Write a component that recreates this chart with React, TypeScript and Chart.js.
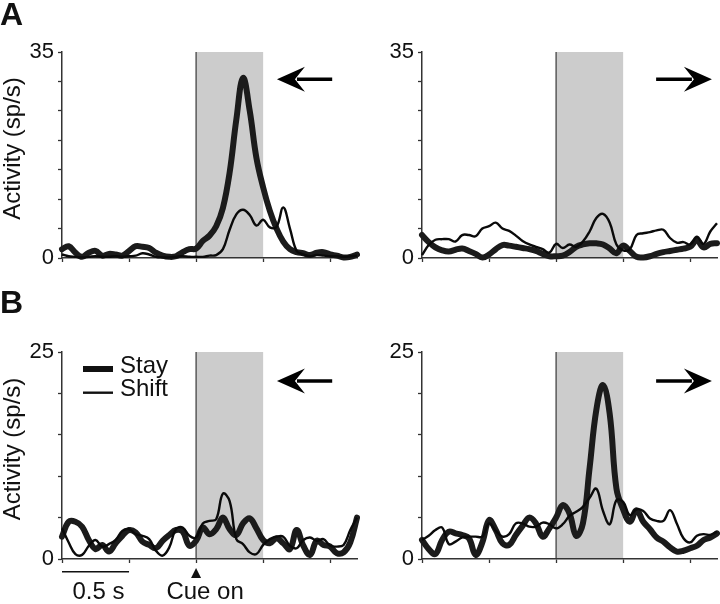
import React, { useEffect, useRef } from 'react';
import { Chart, registerables } from 'chart.js';

Chart.register(...registerables);

const FONT = '"Liberation Sans", Arial, Helvetica, sans-serif';

// time relative to cue onset (s)
const TIME_S = [
  -1.0, -0.95, -0.9, -0.85, -0.8, -0.75, -0.7, -0.65, -0.6, -0.55,
  -0.5, -0.45, -0.4, -0.35, -0.3, -0.25, -0.2, -0.15, -0.1, -0.05,
  0.0,
  0.05, 0.1, 0.15, 0.2, 0.25, 0.3, 0.35, 0.4, 0.45, 0.5,
  0.55, 0.6, 0.65, 0.7, 0.75, 0.8, 0.85, 0.9, 0.95, 1.0,
  1.05, 1.1, 1.15, 1.2,
];

const X_MIN = -1.0;
const X_MAX = 1.2;
const X_STEP = 0.5;
const CUE_WINDOW = [0, 0.5];
const SERIES_NAMES = ['Stay', 'Shift'];

const A_Y_MAX = 35;
const B_Y_MAX = 25;
const Y_STEP = 5;

const A_LEFT_STAY = [
  1.5, 2.0, 0.9, 0.2, 0.9, 1.2, 0.4, 0.7, 0.6, 0.4,
  1.2, 2.0, 1.9, 1.7, 0.9, 0.4, 0.2, 0.3, 1.0, 1.5,
  1.6,
  2.9, 3.8, 5.4, 8.5, 14.5, 23.5, 30.6, 25.0, 17.0, 12.0,
  8.0, 5.0, 2.8, 1.5, 1.0, 0.8, 0.5, 0.9, 1.0, 0.6,
  0.4, 0.1, 0.2, 0.6,
];
const A_LEFT_SHIFT = [
  0.6, 0.3, 0.2, 0.1, 0.2, 0.3, 0.2, 0.2, 0.3, 0.2,
  0.3, 0.4, 0.8, 0.6, 0.2, 0.1, 0.1, 0.2, 0.3, 0.2,
  0.2,
  0.2, 0.4, 0.5, 1.5, 4.8, 7.4, 8.2, 7.3, 5.5, 6.5,
  5.2, 5.3, 8.6, 5.0, 1.2, 0.6, 0.3, 0.5, 0.4, 0.3,
  0.3, 0.2, 0.3, 0.4,
];
const A_RIGHT_STAY = [
  3.9, 2.7, 1.8, 1.3, 1.1, 1.4, 1.6, 1.2, 0.7, 0.1,
  0.6, 1.5, 2.2, 2.1, 1.9, 1.7, 1.5, 1.2, 0.7, 0.3,
  0.3,
  0.4, 1.0, 1.9, 2.3, 2.5, 2.5, 2.3, 1.6, 0.8, 2.1,
  1.2, 0.2, 0.1, 0.3, 0.7, 1.0, 1.2, 1.4, 1.6, 1.9,
  3.0, 1.8, 2.4, 2.5,
];
const A_RIGHT_SHIFT = [
  0.5, 2.2, 3.1, 3.2, 3.2, 2.8, 3.9, 3.9, 3.7, 5.0,
  5.4, 6.0, 5.0, 4.6, 3.8, 2.9, 2.3, 1.9, 1.5, 0.9,
  2.4,
  1.7, 2.3, 1.9, 2.8, 4.5, 6.8, 7.5, 6.0, 2.3, 1.3,
  1.5, 3.9, 4.2, 4.4, 4.7, 4.8, 3.4, 2.6, 2.7, 2.3,
  3.6, 2.4, 4.5, 5.9,
];
const B_LEFT_STAY = [
  2.7, 4.5, 4.5, 3.9, 2.3, 1.2, 1.7, 0.9, 1.9, 2.8,
  3.5, 3.2, 2.1, 1.7, 1.3, 2.2, 2.9, 3.5, 3.3, 1.6,
  2.2,
  3.8, 3.0, 3.6, 5.0, 3.6, 2.9, 4.3, 4.9, 3.7, 2.3,
  1.9, 2.5, 1.9, 1.2, 3.5, 1.6, 0.5, 2.2, 1.7, 1.5,
  0.7, 0.8, 2.0, 5.0,
];
const B_LEFT_SHIFT = [
  3.7, 2.0, 0.6, 0.5, 1.6, 2.3, 1.5, 1.8, 2.3, 3.4,
  3.6, 3.0, 2.8, 2.4, 1.0, 0.4, 1.4, 3.6, 3.8, 2.8,
  2.6,
  4.3, 4.6, 4.8, 7.9, 7.0, 2.4, 1.8, 0.8, 0.6, 1.7,
  2.4, 2.7, 2.7, 1.6, 1.3, 2.3, 2.6, 2.2, 2.4, 1.6,
  1.5, 1.7, 3.5, 5.0,
];
const B_RIGHT_STAY = [
  2.3, 1.2, 0.6, 2.3, 3.3, 3.1, 2.9, 2.5, 0.5, 2.0,
  4.7, 3.5, 1.9, 1.7, 2.9, 4.0, 5.0, 4.3, 2.7, 3.7,
  5.0,
  6.5, 5.5, 2.8, 4.3, 11.0, 18.0, 21.0, 17.5, 8.5, 6.0,
  4.5, 5.9, 4.5, 3.6, 2.6, 2.1, 1.4, 0.9, 1.0, 1.3,
  1.6, 2.3, 2.6, 3.1,
];
const B_RIGHT_SHIFT = [
  2.3, 2.8, 3.5, 3.8, 1.8, 2.1, 2.6, 2.7, 2.7, 2.7,
  4.3, 3.4, 2.7, 3.0, 4.3, 4.3, 3.9, 3.9, 4.4, 4.2,
  3.7,
  4.2, 5.2, 5.7, 6.3, 7.4, 8.5, 5.8, 4.2, 7.1, 6.9,
  5.3, 6.0, 5.8, 4.9, 4.6, 4.6, 5.9, 4.3, 2.5, 2.0,
  2.8, 3.0, 2.9, 3.3,
];

// arrow annotations (time units): [tail, tip]
const ARROW_LEFT = [1.015, 0.603];
const ARROW_RIGHT = [0.746, 1.162];

type PanelSpec = {
  key: string;
  left: number;
  top: number;
  w: number;
  h: number;
  padTop: number;
  axisH: number;
  yMax: number;
  stay: number[];
  shift: number[];
  arrow: 'left' | 'right';
  arrowFrac: number;
  letter?: string;
  letterY?: number;
  yTitle: boolean;
  legend: boolean;
  scaleBar: boolean;
};

const PANELS: PanelSpec[] = [
  { key: 'A-left', left: 0, top: 0, w: 360, h: 290, padTop: 52, axisH: 32, yMax: A_Y_MAX,
    stay: A_LEFT_STAY, shift: A_LEFT_SHIFT, arrow: 'left', arrowFrac: 0.8675,
    letter: 'A', letterY: 25, yTitle: true, legend: false, scaleBar: false },
  { key: 'A-right', left: 360, top: 0, w: 360, h: 290, padTop: 52, axisH: 32, yMax: A_Y_MAX,
    stay: A_RIGHT_STAY, shift: A_RIGHT_SHIFT, arrow: 'right', arrowFrac: 0.8675,
    yTitle: false, legend: false, scaleBar: false },
  { key: 'B-left', left: 0, top: 290, w: 360, h: 314, padTop: 62, axisH: 45, yMax: B_Y_MAX,
    stay: B_LEFT_STAY, shift: B_LEFT_SHIFT, arrow: 'left', arrowFrac: 0.86,
    letter: 'B', letterY: 23, yTitle: true, legend: true, scaleBar: true },
  { key: 'B-right', left: 360, top: 290, w: 360, h: 314, padTop: 62, axisH: 45, yMax: B_Y_MAX,
    stay: B_RIGHT_STAY, shift: B_RIGHT_SHIFT, arrow: 'right', arrowFrac: 0.86,
    yTitle: false, legend: false, scaleBar: false },
];

const STAY_WIDTH = 6;
const SHIFT_WIDTH = 2.4;
const INK = '#111111';

function drawArrow(ctx: CanvasRenderingContext2D, xTail: number, xTip: number, y: number) {
  const dir = Math.sign(xTip - xTail);
  const headLen = 28;
  const headHalf = 12.5;
  const notch = 10;
  ctx.save();
  ctx.fillStyle = '#000';
  ctx.strokeStyle = '#000';
  ctx.lineWidth = 3.5;
  ctx.beginPath();
  ctx.moveTo(xTail, y);
  ctx.lineTo(xTip - dir * (headLen - notch + 2), y);
  ctx.stroke();
  ctx.beginPath();
  ctx.moveTo(xTip, y);
  ctx.lineTo(xTip - dir * headLen, y - headHalf);
  ctx.lineTo(xTip - dir * (headLen - notch), y);
  ctx.lineTo(xTip - dir * headLen, y + headHalf);
  ctx.closePath();
  ctx.fill();
  ctx.restore();
}

function Panel({ spec }: { spec: PanelSpec }) {
  const ref = useRef<HTMLCanvasElement>(null);

  useEffect(() => {
    const canvas = ref.current;
    if (!canvas) return;

    const overlay = {
      id: 'overlay-' + spec.key,
      beforeDraw(chart: any) {
        const { ctx, chartArea, scales } = chart;
        const x0 = scales.x.getPixelForValue(CUE_WINDOW[0]);
        const x1 = scales.x.getPixelForValue(CUE_WINDOW[1]);
        ctx.save();
        ctx.fillStyle = '#cccccc';
        ctx.fillRect(x0, chartArea.top, x1 - x0, chartArea.bottom - chartArea.top);
        ctx.strokeStyle = '#444444';
        ctx.lineWidth = 1.3;
        ctx.beginPath();
        ctx.moveTo(x0, chartArea.top);
        ctx.lineTo(x0, chartArea.bottom);
        ctx.stroke();
        ctx.restore();
      },
      afterDraw(chart: any) {
        const { ctx, chartArea, scales } = chart;
        const xs = scales.x;
        const h = chartArea.bottom - chartArea.top;

        // direction arrow
        const arr = spec.arrow === 'left' ? ARROW_LEFT : ARROW_RIGHT;
        const ay = chartArea.bottom - spec.arrowFrac * h;
        drawArrow(ctx, xs.getPixelForValue(arr[0]), xs.getPixelForValue(arr[1]), ay);

        ctx.save();
        ctx.fillStyle = INK;

        // panel letter
        if (spec.letter) {
          ctx.font = `bold 32px ${FONT}`;
          ctx.textAlign = 'left';
          ctx.textBaseline = 'alphabetic';
          ctx.fillText(spec.letter, 0, spec.letterY);
        }

        // y-axis title
        if (spec.yTitle) {
          ctx.save();
          ctx.translate(13.5, (chartArea.top + chartArea.bottom) / 2 - 6.5);
          ctx.rotate(-Math.PI / 2);
          ctx.font = `24px ${FONT}`;
          ctx.textAlign = 'center';
          ctx.textBaseline = 'middle';
          ctx.fillText('Activity (sp/s)', 0, 0);
          ctx.restore();
        }

        // legend
        if (spec.legend) {
          const lx0 = chartArea.left + 21;
          const lx1 = chartArea.left + 51;
          const ly = chartArea.top + 17;
          const gap = 23.7;
          const widths = [STAY_WIDTH, SHIFT_WIDTH];
          ctx.strokeStyle = INK;
          ctx.font = `24px ${FONT}`;
          ctx.textAlign = 'left';
          ctx.textBaseline = 'middle';
          SERIES_NAMES.forEach((name, i) => {
            const y = ly + i * gap;
            ctx.lineWidth = widths[i];
            ctx.beginPath();
            ctx.moveTo(lx0, y);
            ctx.lineTo(lx1, y);
            ctx.stroke();
            ctx.fillText(name, lx1 + 7, y - 3);
          });
        }

        // scale bar and cue marker
        if (spec.scaleBar) {
          const sb0 = xs.getPixelForValue(X_MIN);
          const sb1 = xs.getPixelForValue(X_MIN + X_STEP);
          const sy = chartArea.bottom + 12.7;
          ctx.strokeStyle = INK;
          ctx.lineWidth = 1.5;
          ctx.beginPath();
          ctx.moveTo(sb0, sy);
          ctx.lineTo(sb1, sy);
          ctx.stroke();
          ctx.font = `24px ${FONT}`;
          ctx.textAlign = 'center';
          ctx.textBaseline = 'alphabetic';
          ctx.fillText('0.5 s', (sb0 + sb1) / 2 + 3, chartArea.bottom + 40);

          const cx = xs.getPixelForValue(CUE_WINDOW[0]);
          const ty = chartArea.bottom + 9;
          ctx.beginPath();
          ctx.moveTo(cx, ty);
          ctx.lineTo(cx - 5, ty + 10);
          ctx.lineTo(cx + 5, ty + 10);
          ctx.closePath();
          ctx.fill();
          ctx.fillText('Cue on', cx + 9, chartArea.bottom + 40);
        }
        ctx.restore();
      },
    };

    const chart = new Chart(canvas, {
      type: 'line',
      data: {
        datasets: [
          {
            label: SERIES_NAMES[0],
            data: TIME_S.map((t, i) => ({ x: t, y: spec.stay[i] })),
            borderColor: '#1b1b1b',
            borderWidth: STAY_WIDTH,
            pointRadius: 0,
            tension: 0.4,
            fill: false,
            order: 2,
            clip: false as any,
            borderCapStyle: 'round',
            borderJoinStyle: 'round',
          },
          {
            label: SERIES_NAMES[1],
            data: TIME_S.map((t, i) => ({ x: t, y: spec.shift[i] })),
            borderColor: '#0a0a0a',
            borderWidth: SHIFT_WIDTH,
            pointRadius: 0,
            tension: 0.4,
            fill: false,
            order: 1,
            clip: false as any,
            borderJoinStyle: 'round',
          },
        ],
      },
      options: {
        animation: false,
        responsive: false,
        maintainAspectRatio: false,
        devicePixelRatio: 1,
        events: [],
        layout: { padding: { top: spec.padTop, right: 3, left: 0, bottom: 0 } },
        plugins: {
          legend: { display: false },
          tooltip: { enabled: false },
          title: { display: false },
        },
        scales: {
          x: {
            type: 'linear',
            min: X_MIN,
            max: X_MAX,
            afterFit: (scale: any) => { scale.height = spec.axisH; },
            ticks: { display: false, stepSize: X_STEP, includeBounds: false },
            grid: {
              drawOnChartArea: false,
              drawTicks: true,
              tickLength: 4,
              tickColor: '#333333',
              tickWidth: 1.3,
              color: '#333333',
            },
            border: { display: true, color: '#333333', width: 1.5 },
          },
          y: {
            type: 'linear',
            min: 0,
            max: spec.yMax,
            afterFit: (scale: any) => { scale.width = 62; },
            ticks: {
              stepSize: Y_STEP,
              padding: 4,
              color: INK,
              font: { family: FONT, size: 22 },
              callback: (v: any) => (v === 0 || v === spec.yMax ? String(v) : ''),
            },
            grid: {
              drawOnChartArea: false,
              drawTicks: true,
              tickLength: 4,
              tickColor: '#333333',
              tickWidth: 1.3,
              color: '#333333',
            },
            border: { display: true, color: '#333333', width: 1.5 },
          },
        },
      } as any,
      plugins: [overlay],
    });

    return () => chart.destroy();
  }, [spec]);

  return (
    <canvas
      ref={ref}
      width={spec.w}
      height={spec.h}
      style={{ position: 'absolute', left: spec.left, top: spec.top, width: spec.w, height: spec.h }}
    />
  );
}

export default function App() {
  return (
    <div
      style={{
        position: 'absolute',
        left: 0,
        top: 0,
        width: 720,
        height: 604,
        background: '#ffffff',
        overflow: 'hidden',
        fontFamily: FONT,
      }}
    >
      {PANELS.map((p) => (
        <Panel key={p.key} spec={p} />
      ))}
    </div>
  );
}
